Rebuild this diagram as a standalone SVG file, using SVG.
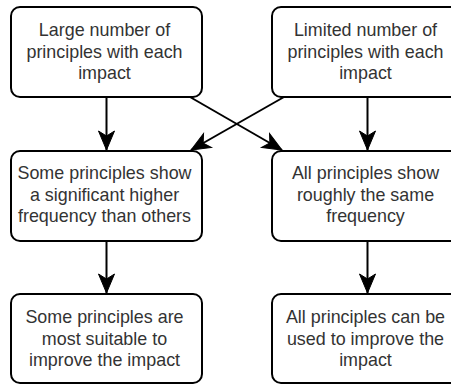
<svg xmlns="http://www.w3.org/2000/svg" width="451" height="385" viewBox="0 0 451 385">
<style>
.box{fill:#fff;stroke:#000;stroke-width:2}
.t{font-family:"Liberation Sans",Arial,sans-serif;font-size:17.9px;fill:#333;text-anchor:middle}
.e{fill:none;stroke:#000;stroke-width:2}
</style>
<defs>
<marker id="a" markerUnits="userSpaceOnUse" markerWidth="24" markerHeight="20" viewBox="-20 -10 22 20" refX="0" refY="0" orient="auto">
<path d="M0,0 L-19,-8 L-14,0 L-19,8 Z" fill="#000" stroke="#000" stroke-width="1" stroke-linejoin="miter"/>
</marker>
</defs>
<rect width="451" height="385" fill="#fff"/>
<g id="connectors">
<line class="e" x1="106.5" y1="97" x2="106.5" y2="150" marker-end="url(#a)"/>
<line class="e" x1="367.5" y1="97" x2="367.5" y2="150" marker-end="url(#a)"/>
<line class="e" x1="190" y1="97" x2="282" y2="150" marker-end="url(#a)"/>
<line class="e" x1="284" y1="97" x2="191" y2="150" marker-end="url(#a)"/>
<line class="e" x1="106.5" y1="241" x2="106.5" y2="293" marker-end="url(#a)"/>
<line class="e" x1="367.5" y1="241" x2="367.5" y2="293" marker-end="url(#a)"/>
</g>
<g id="n1">
<rect class="box" x="11" y="7" width="191" height="90" rx="9"/>
<text class="t" x="104.5" y="36">Large number of</text>
<text class="t" x="104.5" y="57.5">principles with each</text>
<text class="t" x="104.5" y="79">impact</text>
</g>
<g id="n2">
<rect class="box" x="272" y="7" width="191" height="90" rx="9"/>
<text class="t" x="365.5" y="36">Limited number of</text>
<text class="t" x="365.5" y="57.5">principles with each</text>
<text class="t" x="365.5" y="79">impact</text>
</g>
<g id="n3">
<rect class="box" x="11" y="151" width="191" height="90" rx="9"/>
<text class="t" x="104.5" y="179">Some principles show</text>
<text class="t" x="104.5" y="200.5">a significant higher</text>
<text class="t" x="104.5" y="222">frequency than others</text>
</g>
<g id="n4">
<rect class="box" x="272" y="151" width="191" height="90" rx="9"/>
<text class="t" x="365.5" y="179">All principles show</text>
<text class="t" x="365.5" y="200.5">roughly the same</text>
<text class="t" x="365.5" y="222">frequency</text>
</g>
<g id="n5">
<rect class="box" x="11" y="294" width="191" height="89" rx="9"/>
<text class="t" x="104.5" y="323">Some principles are</text>
<text class="t" x="104.5" y="344.5">most suitable to</text>
<text class="t" x="104.5" y="366">improve the impact</text>
</g>
<g id="n6">
<rect class="box" x="272" y="294" width="191" height="89" rx="9"/>
<text class="t" x="365.5" y="323">All principles can be</text>
<text class="t" x="365.5" y="344.5">used to improve the</text>
<text class="t" x="365.5" y="366">impact</text>
</g>
</svg>
